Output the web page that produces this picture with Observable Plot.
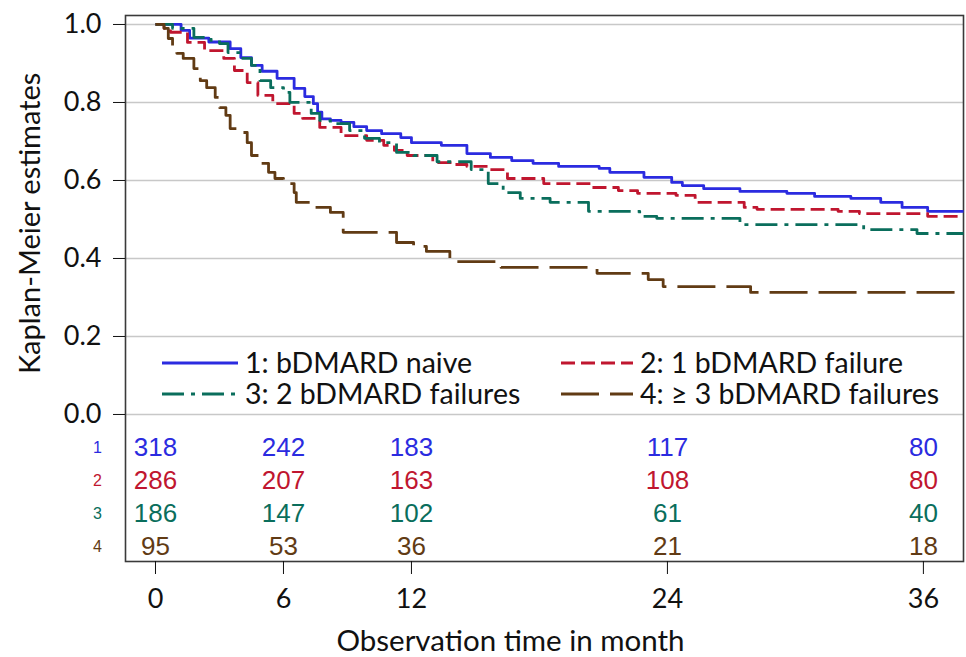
<!DOCTYPE html>
<html>
<head>
<meta charset="utf-8">
<script src="https://cdn.jsdelivr.net/npm/d3@7"></script>
<script src="https://cdn.jsdelivr.net/npm/@observablehq/plot@0.6"></script>
<style>
  html, body { margin: 0; padding: 0; background: #fff; }
  #wrap { position: relative; width: 966px; height: 657px; }
  #legend { position: absolute; left: 0; top: 0; pointer-events: none; }
</style>
</head>
<body>
<div id="wrap"></div>
<script>
// ---------- data ----------
const groups = ["1", "2", "3", "4"];
const groupLabels = ["1: bDMARD naive", "2: 1 bDMARD failure", "3: 2 bDMARD failures", "4: \u2265 3 bDMARD failures"];
const groupColors = ["#2b2be0", "#c0162f", "#0a6e5c", "#613b14"];
const groupDash = [null, "14,6", "22,7,4,7", "38,11"];

const xTicks = [0, 6, 12, 24, 36];
const yTicks = [0, 0.2, 0.4, 0.6, 0.8, 1.0];

// Kaplan-Meier step points [month, survival]
const kmNaive = [[0,1],[1.2,0.985],[1.6,0.965],[2.5,0.955],[3.5,0.938],[4.0,0.915],[4.5,0.895],[5.0,0.88],[5.7,0.862],[6.5,0.836],[7.0,0.815],[7.4,0.797],[7.6,0.775],[7.8,0.758],[8.2,0.754],[8.7,0.749],[9.3,0.738],[9.9,0.728],[10.6,0.72],[11.5,0.71],[12.0,0.697],[13.4,0.69],[14.6,0.669],[15.7,0.659],[16.7,0.651],[17.7,0.644],[18.9,0.636],[20.8,0.631],[21.3,0.621],[22.9,0.608],[24.2,0.595],[24.7,0.587],[25.7,0.579],[27.4,0.572],[29.6,0.567],[30.9,0.559],[32.6,0.554],[34.0,0.544],[35.0,0.531],[36.2,0.521],[37.88,0.521]];
const kmOne = [[0,1],[0.4,0.99],[0.7,0.98],[1.5,0.954],[2.3,0.933],[3.2,0.913],[3.7,0.882],[4.3,0.851],[4.8,0.818],[5.5,0.797],[6.5,0.772],[6.9,0.759],[7.7,0.736],[8.7,0.715],[9.9,0.703],[10.7,0.69],[11.2,0.677],[11.8,0.664],[13.0,0.646],[14.0,0.641],[14.6,0.636],[15.7,0.628],[16.5,0.605],[18.2,0.592],[20.4,0.582],[21.7,0.574],[22.6,0.567],[24.4,0.562],[25.3,0.544],[27.6,0.531],[28.2,0.526],[32.0,0.521],[33.0,0.515],[36.2,0.508],[37.88,0.508]];
const kmTwo = [[0,1],[0.8,0.99],[1.8,0.967],[2.6,0.959],[3.0,0.951],[3.4,0.928],[4.0,0.913],[4.5,0.895],[4.9,0.856],[5.4,0.838],[6.0,0.826],[6.3,0.8],[7.3,0.772],[7.7,0.754],[8.2,0.746],[9.1,0.728],[9.8,0.708],[10.5,0.697],[11.3,0.672],[12.1,0.664],[13.2,0.648],[14.8,0.628],[15.6,0.592],[16.3,0.569],[17.1,0.554],[18.5,0.544],[20.3,0.521],[22.7,0.508],[23.5,0.503],[27.4,0.487],[33.2,0.474],[35.7,0.464],[37.88,0.464]];
const kmThree = [[0,1],[0.4,0.99],[0.6,0.964],[0.8,0.946],[1.0,0.926],[1.3,0.913],[1.8,0.887],[2.1,0.856],[2.4,0.838],[2.8,0.813],[3.0,0.787],[3.3,0.767],[3.5,0.733],[4.1,0.723],[4.3,0.697],[4.5,0.664],[4.9,0.644],[5.3,0.621],[5.6,0.605],[6.0,0.592],[6.5,0.569],[6.6,0.544],[7.4,0.531],[8.2,0.518],[8.8,0.467],[11.3,0.441],[12.1,0.431],[12.7,0.418],[13.8,0.392],[16.2,0.377],[20.7,0.362],[23.1,0.346],[23.8,0.328],[27.9,0.313],[37.88,0.313]];
const kmSeries = [kmNaive, kmOne, kmTwo, kmThree];

// numbers at risk at each x tick, per group
const riskNaive = [318, 242, 183, 117, 80];
const riskOne   = [286, 207, 163, 108, 80];
const riskTwo   = [186, 147, 102, 61, 40];
const riskThree = [95, 53, 36, 21, 18];
const riskSeries = [riskNaive, riskOne, riskTwo, riskThree];

// ---------- tables built from arrays ----------
const kmRows = kmSeries.flatMap((arr, gi) => arr.map(([t, s]) => ({group: groups[gi], t, s})));
const riskRowStep = 0.0846; // vertical spacing of at-risk rows in survival units
const riskRows = riskSeries.flatMap((arr, gi) => arr.map((n, i) => ({group: groups[gi], gi, t: xTicks[i], n})));
const rowLabels = groups.map((g, gi) => ({group: g, gi}));

const calib = "Lato, 'Open Sans', sans-serif";
const arial = "'Liberation Sans', Arial, sans-serif";

const marks = [
  Plot.ruleY(yTicks, {stroke: "#c8c8c8", strokeWidth: 1.6}),
  Plot.frame({stroke: "#3a3a3a", strokeWidth: 1.6}),
  Plot.axisY({ticks: yTicks, tickFormat: d3.format(".1f"), tickSize: 12, tickPadding: 12, fontSize: 27, label: null, fontFamily: calib}),
  Plot.axisX({ticks: xTicks, tickSize: 13, tickPadding: 14, fontSize: 27, label: null, fontFamily: calib}),
];
groups.forEach((g, gi) => {
  marks.push(Plot.line(kmRows.filter(d => d.group === g), {
    x: "t", y: "s", curve: "step-after",
    stroke: groupColors[gi], strokeWidth: 2.8,
    strokeDasharray: groupDash[gi] || undefined,
    strokeLinecap: "butt"
  }));
});
marks.push(
  Plot.text(riskRows, {
    x: "t", y: d => -riskRowStep * (d.gi + 1), text: d => String(d.n),
    fill: d => groupColors[d.gi], fontSize: 26, fontFamily: arial, lineAnchor: "middle"
  }),
  Plot.text(rowLabels, {
    x: -2.72, y: d => -riskRowStep * (d.gi + 1), text: "group",
    fill: d => groupColors[d.gi], fontSize: 16, fontFamily: arial, lineAnchor: "middle"
  }),
  Plot.text(["Kaplan-Meier estimates"], {x: -5.86, y: 0.49, rotate: -90, fontSize: 29, fontFamily: calib, fill: "#111", lineAnchor: "middle"}),
  Plot.text(["Observation time in month"], {frameAnchor: "bottom", dx: -34, dy: 80, fontSize: 29.5, fontFamily: calib, fill: "#111", lineAnchor: "middle"})
);

const chart = Plot.plot({
  width: 966, height: 657,
  marginTop: 15, marginBottom: 96, marginLeft: 125, marginRight: 3,
  x: {domain: [-1.406, 37.88]},
  y: {domain: [-0.377, 1.023]},
  style: {background: "#fff", color: "#111", fontFamily: calib},
  marks
});
document.getElementById("wrap").appendChild(chart);

// ---------- legend (overlay) ----------
const legendPos = [
  {lx1: 162, lx2: 238, tx: 245, cy: 363},
  {lx1: 561, lx2: 633, tx: 640, cy: 363},
  {lx1: 162, lx2: 238, tx: 245, cy: 394},
  {lx1: 561, lx2: 633, tx: 640, cy: 394}
];
const svg = d3.select("#wrap").append("svg").attr("id", "legend").attr("width", 966).attr("height", 657);
groups.forEach((g, gi) => {
  const p = legendPos[gi];
  svg.append("line").attr("x1", p.lx1).attr("x2", p.lx2).attr("y1", p.cy).attr("y2", p.cy)
    .attr("stroke", groupColors[gi]).attr("stroke-width", 2.8)
    .attr("stroke-dasharray", groupDash[gi]);
  svg.append("text").attr("x", p.tx).attr("y", p.cy).attr("dy", "0.35em")
    .attr("font-family", calib).attr("font-size", 28.5).attr("fill", "#111")
    .text(groupLabels[gi]);
});
</script>
</body>
</html>
